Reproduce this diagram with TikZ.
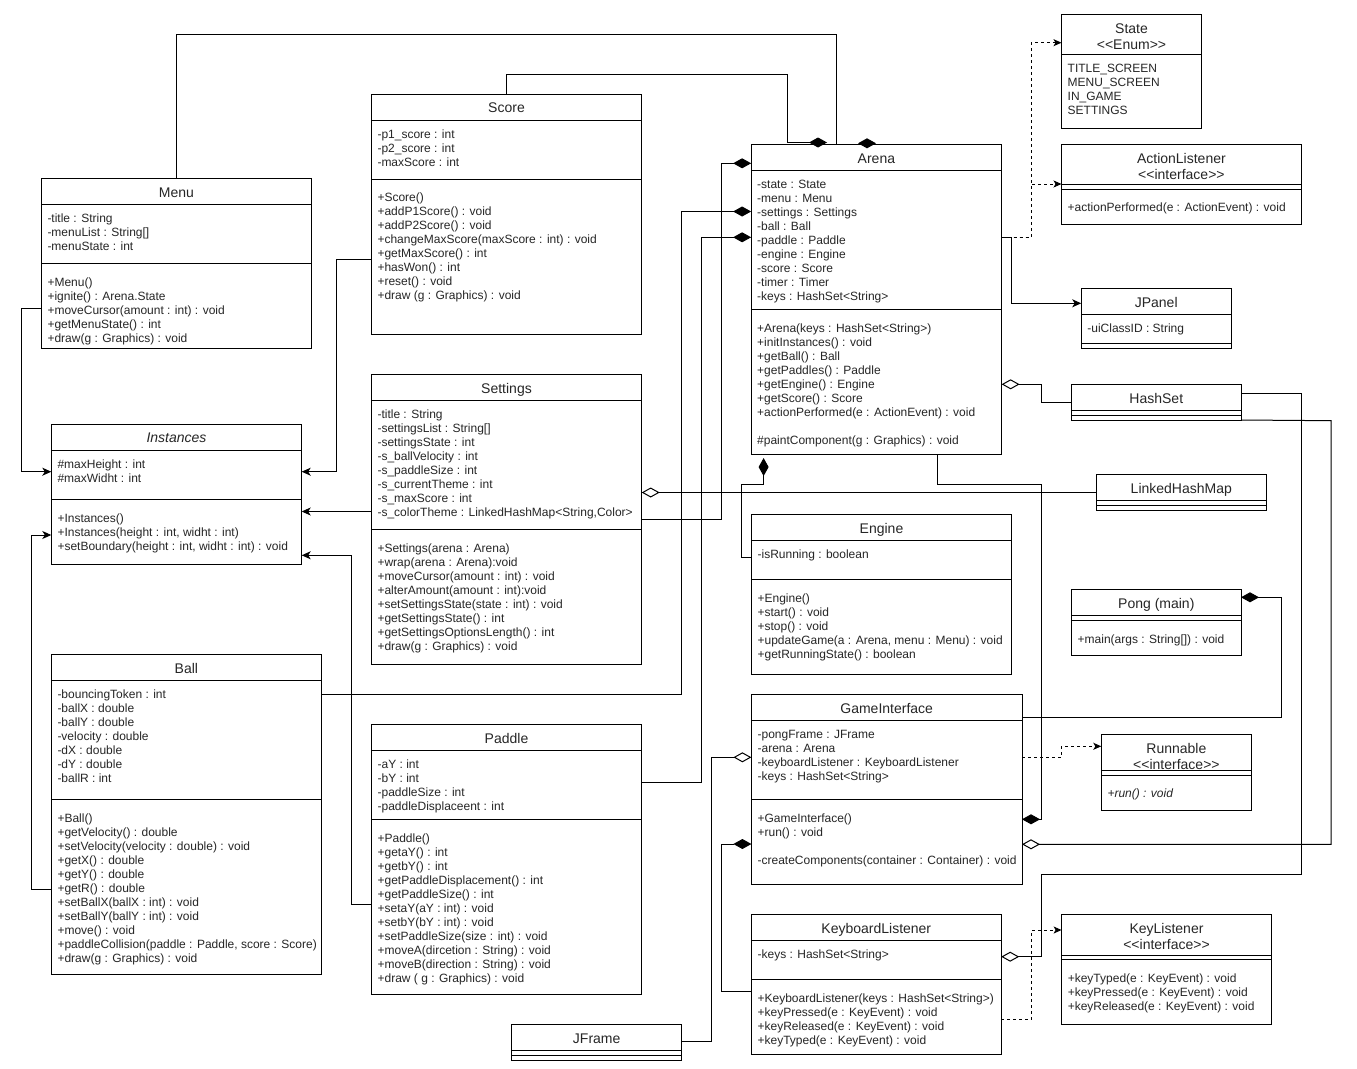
\documentclass[tikz,border=0pt]{standalone}
\usepackage{fontspec}
\setmainfont{Liberation Sans}
\usetikzlibrary{arrows.meta,fit}

\begin{document}
\begin{tikzpicture}[x=1pt, y=-1pt,
    every node/.style={text=black!85},
    clase/.style={draw, line width=1pt, fill=white, inner sep=0pt, outer sep=0pt},
    compart/.style={line width=1pt},
    titulo/.style={anchor=north, inner sep=0pt, align=center, font=\fontsize{14}{16}\selectfont},
    texto/.style={anchor=north west, inner sep=0pt, align=left, font=\fontsize{12}{14}\selectfont},
    linea/.style={line width=1pt},
    compo/.style={line width=1pt, arrows={Diamond[length=18pt,width=10pt]-}},
    agrega/.style={line width=1pt, arrows={Diamond[open,fill=white,length=18pt,width=10pt]-}},
    hereda/.style={line width=1pt, arrows={-Stealth[length=9pt,width=8pt,inset=2.5pt]}},
    realiza/.style={line width=1pt, dash pattern=on 3pt off 3pt, arrows={-Stealth[length=8pt,width=7pt,inset=2pt]}}]
  \useasboundingbox (0,0) rectangle (1357,1068);

  % Clase Menu
  \node[clase, fit={(41.3,178.3) (311.7,348.3)}] (menu) {};
  \draw[compart] (menu.west |- 0,204.3) -- (menu.east |- 0,204.3);
  \draw[compart] (menu.west |- 0,263.3) -- (menu.east |- 0,263.3);
  \node[titulo] (menuT) at (176.5,185.6) {\strut Menu};
  \node[texto] (menuA) at (47.3,212) {\strut -title : String\\-menuList : String[]\\-menuState : int};
  \node[texto] (menuM) at (47.3,276.2) {\strut +Menu()\\+ignite() : Arena.State\\+moveCursor(amount : int) : void\\+getMenuState() : int\\+draw(g : Graphics) : void};

  % Clase Score
  \node[clase, fit={(371.3,94) (641.7,334.3)}] (score) {};
  \draw[compart] (score.west |- 0,120.3) -- (score.east |- 0,120.3);
  \draw[compart] (score.west |- 0,179) -- (score.east |- 0,179);
  \node[titulo] (scoreT) at (506.5,101.3) {\strut Score};
  \node[texto] (scoreA) at (377.3,128) {\strut -p1\_score : int\\-p2\_score : int\\-maxScore : int};
  \node[texto] (scoreM) at (377.3,191.9) {\strut +Score()\\+addP1Score() : void\\+addP2Score() : void\\+changeMaxScore(maxScore : int) : void\\+getMaxScore() : int\\+hasWon() : int\\+reset() : void\\+draw (g : Graphics) : void};

  % Clase Settings
  \node[clase, fit={(371.3,374.3) (641.7,664.3)}] (settings) {};
  \draw[compart] (settings.west |- 0,400.7) -- (settings.east |- 0,400.7);
  \draw[compart] (settings.west |- 0,529.3) -- (settings.east |- 0,529.3);
  \node[titulo] (settingsT) at (506.5,381.6) {\strut Settings};
  \node[texto] (settingsA) at (377.3,408.4) {\strut -title : String\\-settingsList : String[]\\-settingsState : int\\-s\_ballVelocity : int\\-s\_paddleSize : int\\-s\_currentTheme : int\\-s\_maxScore : int\\-s\_colorTheme : LinkedHashMap<String,Color>};
  \node[texto] (settingsM) at (377.3,542.2) {\strut +Settings(arena : Arena)\\+wrap(arena : Arena):void\\+moveCursor(amount : int) : void\\+alterAmount(amount : int):void\\+setSettingsState(state : int) : void\\+getSettingsState() : int\\+getSettingsOptionsLength() : int\\+draw(g : Graphics) : void};

  % Clase abstracta Instances
  \node[clase, fit={(51.3,424) (301.7,564.3)}] (instances) {};
  \draw[compart] (instances.west |- 0,450.3) -- (instances.east |- 0,450.3);
  \draw[compart] (instances.west |- 0,499.3) -- (instances.east |- 0,499.3);
  \node[titulo] (instancesT) at (176.5,431.3) {\strut\textit{Instances}};
  \node[texto] (instancesA) at (57.3,458) {\strut \#maxHeight : int\\\#maxWidht : int};
  \node[texto] (instancesM) at (57.3,512.2) {\strut +Instances()\\+Instances(height : int, widht : int)\\+setBoundary(height : int, widht : int) : void};

  % Clase Ball
  \node[clase, fit={(51.3,654.3) (321.4,974)}] (ball) {};
  \draw[compart] (ball.west |- 0,680.3) -- (ball.east |- 0,680.3);
  \draw[compart] (ball.west |- 0,799.3) -- (ball.east |- 0,799.3);
  \node[titulo] (ballT) at (186.4,661.6) {\strut Ball};
  \node[texto] (ballA) at (57.3,688) {\strut -bouncingToken : int\\-ballX : double\\-ballY : double\\-velocity : double\\-dX : double\\-dY : double\\-ballR : int};
  \node[texto] (ballM) at (57.3,812.2) {\strut +Ball()\\+getVelocity() : double\\+setVelocity(velocity : double) : void\\+getX() : double\\+getY() : double\\+getR() : double\\+setBallX(ballX : int) : void\\+setBallY(ballY : int) : void\\+move() : void\\+paddleCollision(paddle : Paddle, score : Score)\\+draw(g : Graphics) : void};

  % Clase Paddle
  \node[clase, fit={(371.4,724.7) (641.5,994)}] (paddle) {};
  \draw[compart] (paddle.west |- 0,750.3) -- (paddle.east |- 0,750.3);
  \draw[compart] (paddle.west |- 0,819.3) -- (paddle.east |- 0,819.3);
  \node[titulo] (paddleT) at (506.5,732) {\strut Paddle};
  \node[texto] (paddleA) at (377.4,758) {\strut -aY : int\\-bY : int\\-paddleSize : int\\-paddleDisplaceent : int};
  \node[texto] (paddleM) at (377.4,832.2) {\strut +Paddle()\\+getaY() : int\\+getbY() : int\\+getPaddleDisplacement() : int\\+getPaddleSize() : int\\+setaY(aY : int) : void\\+setbY(bY : int) : void\\+setPaddleSize(size : int) : void\\+moveA(dircetion : String) : void\\+moveB(direction : String) : void\\+draw ( g : Graphics) : void};

  % Clase Arena
  \node[clase, fit={(751.1,144.3) (1001.6,454)}] (arena) {};
  \draw[compart] (arena.west |- 0,170.3) -- (arena.east |- 0,170.3);
  \draw[compart] (arena.west |- 0,309.3) -- (arena.east |- 0,309.3);
  \node[titulo] (arenaT) at (876.4,151.6) {\strut Arena};
  \node[texto] (arenaA) at (757,178) {\strut -state : State\\-menu : Menu\\-settings : Settings\\-ball : Ball\\-paddle : Paddle\\-engine : Engine\\-score : Score\\-timer : Timer\\-keys : HashSet<String>};
  \node[texto] (arenaM) at (757,322.2) {\strut +Arena(keys : HashSet<String>)\\+initInstances() : void\\+getBall() : Ball\\+getPaddles() : Paddle\\+getEngine() : Engine\\+getScore() : Score\\+actionPerformed(e : ActionEvent) : void\\[14pt]\#paintComponent(g : Graphics) : void};

  % Enum State
  \node[clase, fit={(1061.5,14.3) (1201.5,128.3)}] (state) {};
  \draw[compart] (state.west |- 0,54.3) -- (state.east |- 0,54.3);
  \node[titulo] (stateT) at (1131.5,21.6) {\strut State\\<\kern0pt<Enum>\kern0pt>};
  \node[texto] (stateA) at (1067.5,62) {\strut TITLE\_SCREEN\\MENU\_SCREEN\\IN\_GAME\\SETTINGS};

  % Interfaz ActionListener
  \node[clase, fit={(1061.5,144.3) (1301.2,224.3)}] (actionlistener) {};
  \draw[compart] (actionlistener.west |- 0,184) -- (actionlistener.east |- 0,184);
  \draw[compart] (actionlistener.west |- 0,189) -- (actionlistener.east |- 0,189);
  \node[titulo] (actionlistenerT) at (1181.4,151.6) {\strut ActionListener\\<\kern0pt<interface>\kern0pt>};
  \node[texto] (actionlistenerM) at (1067.5,201.9) {\strut +actionPerformed(e : ActionEvent) : void};

  % Clase JPanel
  \node[clase, fit={(1081.2,288.3) (1231.2,348)}] (jpanel) {};
  \draw[compart] (jpanel.west |- 0,314.7) -- (jpanel.east |- 0,314.7);
  \draw[compart] (jpanel.west |- 0,343.3) -- (jpanel.east |- 0,343.3);
  \node[titulo] (jpanelT) at (1156.2,295.6) {\strut JPanel};
  \node[texto] (jpanelA) at (1087.2,322.4) {\strut -uiClassID : String};

  % Clase HashSet
  \node[clase, fit={(1071.2,384.3) (1241.3,420)}] (hashset) {};
  \draw[compart] (hashset.west |- 0,410.7) -- (hashset.east |- 0,410.7);
  \draw[compart] (hashset.west |- 0,415.3) -- (hashset.east |- 0,415.3);
  \node[titulo] (hashsetT) at (1156.3,391.6) {\strut HashSet};

  % Clase LinkedHashMap
  \node[clase, fit={(1096.3,474.3) (1266.3,510.3)}] (linkedhashmap) {};
  \draw[compart] (linkedhashmap.west |- 0,500.7) -- (linkedhashmap.east |- 0,500.7);
  \draw[compart] (linkedhashmap.west |- 0,505.7) -- (linkedhashmap.east |- 0,505.7);
  \node[titulo] (linkedhashmapT) at (1181.3,481.6) {\strut LinkedHashMap};

  % Clase Engine
  \node[clase, fit={(751.4,514.3) (1011.6,674.3)}] (engine) {};
  \draw[compart] (engine.west |- 0,540.3) -- (engine.east |- 0,540.3);
  \draw[compart] (engine.west |- 0,579.3) -- (engine.east |- 0,579.3);
  \node[titulo] (engineT) at (881.5,521.6) {\strut Engine};
  \node[texto] (engineA) at (757.4,548) {\strut -isRunning : boolean};
  \node[texto] (engineM) at (757.4,592.2) {\strut +Engine()\\+start() : void\\+stop() : void\\+updateGame(a : Arena, menu : Menu) : void\\+getRunningState() : boolean};

  % Clase Pong (main)
  \node[clase, fit={(1071.5,589.7) (1241,655.3)}] (pong) {};
  \draw[compart] (pong.west |- 0,615.3) -- (pong.east |- 0,615.3);
  \draw[compart] (pong.west |- 0,620.3) -- (pong.east |- 0,620.3);
  \node[titulo] (pongT) at (1156.3,597) {\strut Pong (main)};
  \node[texto] (pongM) at (1077.5,633.2) {\strut +main(args : String[]) : void};

  % Clase GameInterface
  \node[clase, fit={(751.4,694.3) (1022,884)}] (gameinterface) {};
  \draw[compart] (gameinterface.west |- 0,720.3) -- (gameinterface.east |- 0,720.3);
  \draw[compart] (gameinterface.west |- 0,799.3) -- (gameinterface.east |- 0,799.3);
  \node[titulo] (gameinterfaceT) at (886.7,701.6) {\strut GameInterface};
  \node[texto] (gameinterfaceA) at (757.4,728) {\strut -pongFrame : JFrame\\-arena : Arena\\-keyboardListener : KeyboardListener\\-keys : HashSet<String>};
  \node[texto] (gameinterfaceM) at (757.4,812.2) {\strut +GameInterface()\\+run() : void\\[14pt]-createComponents(container : Container) : void};

  % Interfaz Runnable
  \node[clase, fit={(1101.3,734.3) (1251.4,810)}] (runnable) {};
  \draw[compart] (runnable.west |- 0,770) -- (runnable.east |- 0,770);
  \draw[compart] (runnable.west |- 0,775) -- (runnable.east |- 0,775);
  \node[titulo] (runnableT) at (1176.4,741.6) {\strut Runnable\\<\kern0pt<interface>\kern0pt>};
  \node[texto] (runnableM) at (1107.3,787.9) {\strut\textit{+run() : void}};

  % Clase KeyboardListener
  \node[clase, fit={(751.4,914.3) (1001.2,1054)}] (keyboardlistener) {};
  \draw[compart] (keyboardlistener.west |- 0,940.3) -- (keyboardlistener.east |- 0,940.3);
  \draw[compart] (keyboardlistener.west |- 0,979.3) -- (keyboardlistener.east |- 0,979.3);
  \node[titulo] (keyboardlistenerT) at (876.3,921.6) {\strut KeyboardListener};
  \node[texto] (keyboardlistenerA) at (757.4,948) {\strut -keys : HashSet<String>};
  \node[texto] (keyboardlistenerM) at (757.4,992.2) {\strut +KeyboardListener(keys : HashSet<String>)\\+keyPressed(e : KeyEvent) : void\\+keyReleased(e : KeyEvent) : void\\+keyTyped(e : KeyEvent) : void};

  % Interfaz KeyListener
  \node[clase, fit={(1061.6,914.3) (1271.3,1024)}] (keylistener) {};
  \draw[compart] (keylistener.west |- 0,955) -- (keylistener.east |- 0,955);
  \draw[compart] (keylistener.west |- 0,959.7) -- (keylistener.east |- 0,959.7);
  \node[titulo] (keylistenerT) at (1166.5,921.6) {\strut KeyListener\\<\kern0pt<interface>\kern0pt>};
  \node[texto] (keylistenerM) at (1067.6,972.6) {\strut +keyTyped(e : KeyEvent) : void\\+keyPressed(e : KeyEvent) : void\\+keyReleased(e : KeyEvent) : void};

  % Clase JFrame
  \node[clase, fit={(511.6,1024.3) (681.7,1060)}] (jframe) {};
  \draw[compart] (jframe.west |- 0,1050.7) -- (jframe.east |- 0,1050.7);
  \draw[compart] (jframe.west |- 0,1055.3) -- (jframe.east |- 0,1055.3);
  \node[titulo] (jframeT) at (596.7,1031.6) {\strut JFrame};

  % Herencia hacia Instances
  \draw[hereda] (menu.west |- 0,308.7) -| (21.3,471.7) -- (instances.west |- 0,471.7);
  \draw[hereda] (score.west |- 0,259) -| (336.7,471.7) -- (instances.east |- 0,471.7);
  \draw[hereda] (settings.west |- 0,511.5) -- (instances.east |- 0,511.5);
  \draw[hereda] (paddle.west |- 0,904.3) -| (351.8,555.3) -- (instances.east |- 0,555.3);
  \draw[hereda] (ball.west |- 0,889) -| (31.3,535) -- (instances.west |- 0,535);

  % Composicion en Arena
  \coordinate (scorefin) at (827,142.5);
  \coordinate (enginefin) at (763.6,458);
  \draw[compo] (scorefin) -| (787.3,74.3) -| (score.north);
  \draw[linea] (menu.north) |- (836.3,34.3) -- (arena.north -| 836.3,0);
  \fill (858,143.3) -- (867,138.3) -- (876,143.3) -- (867,148.3) -- cycle;
  \draw[compo] (arena.west |- 0,163.3) -| (721.7,519.3) -- (settings.east |- 0,519.3);
  \draw[compo] (arena.west |- 0,211.5) -| (681.7,694) -- (ball.east |- 0,694);
  \draw[compo] (arena.west |- 0,237.3) -| (701.7,782.3) -- (paddle.east |- 0,782.3);
  \draw[compo] (enginefin) |- (741.5,484) |- (engine.west |- 0,557.3);

  % Arena: interfaces y herencia
  \draw[realiza] (arena.east |- 0,237.3) -| (1031,42.7) -- (state.west |- 0,42.7);
  \draw[realiza] (arena.east |- 0,237.3) -| (1031,184) -- (actionlistener.west |- 0,184);
  \draw[hereda] (arena.east |- 0,237.3) -| (1011.3,303.3) -- (jpanel.west |- 0,303.3);
  \draw[agrega] (arena.east |- 0,384.3) -| (1041.4,402.3) -- (hashset.west |- 0,402.3);
  \draw[agrega] (settings.east |- 0,492.5) -- (linkedhashmap.west |- 0,492.5);

  % GameInterface y sus partes
  \draw[compo] (gameinterface.east |- 0,819.3) -| (1041,484) -| (arena.south -| 937.6,0);
  \draw[agrega] (keyboardlistener.east |- 0,956.7) -| (1041,874) -| (1301.2,393.3) -- (hashset.east |- 0,393.3);
  \draw[agrega] (gameinterface.east |- 0,844.3) -| (1331,420.7) -- (hashset.south east);
  \draw[compo] (pong.east |- 0,597.3) -| (1281.2,717.7) -- (gameinterface.east |- 0,717.7);
  \draw[realiza] (gameinterface.east |- 0,757.3) -| (1061.2,746.3) -- (runnable.west |- 0,746.3);
  \draw[realiza] (keyboardlistener.east |- 0,1019.3) -| (1031.4,930) -- (keylistener.west |- 0,930);
  \draw[agrega] (gameinterface.west |- 0,757.3) -| (711.3,1041.7) -- (jframe.east |- 0,1041.7);
  \draw[compo] (gameinterface.west |- 0,844) -| (721.7,991.7) -- (keyboardlistener.west |- 0,991.7);
\end{tikzpicture}
\end{document}
